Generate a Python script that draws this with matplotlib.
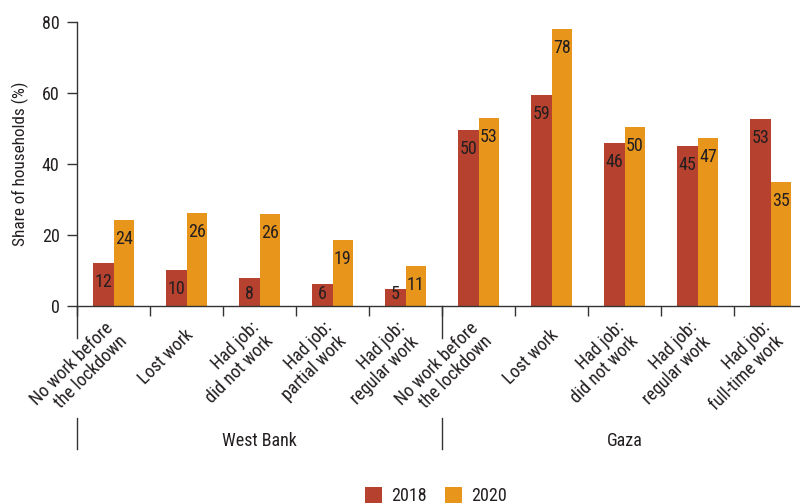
import matplotlib
matplotlib.use("Agg")
import matplotlib.pyplot as plt
from matplotlib.patches import Patch
from matplotlib import font_manager
import numpy as np

_avail = {f.name for f in font_manager.fontManager.ttflist}
_prefs = ['Roboto Condensed', 'DejaVu Sans Condensed', 'Liberation Sans Narrow',
          'Open Sans Condensed', 'Roboto', 'DejaVu Sans']
_family = [f for f in _prefs if f in _avail] + ['DejaVu Sans']
plt.rcParams['font.family'] = _family
_condensed = _family[0] in ('Roboto Condensed', 'DejaVu Sans Condensed',
                            'Liberation Sans Narrow', 'Open Sans Condensed')

categories = [
    "No work before\nthe lockdown", "Lost work", "Had job:\ndid not work",
    "Had job:\npartial work", "Had job:\nregular work",
    "No work before\nthe lockdown", "Lost work", "Had job:\ndid not work",
    "Had job:\nregular work", "Had job:\nfull-time work",
]
groups = ["West Bank", "Gaza"]
years = ["2018", "2020"]
vals_2018 = [12.2, 10.2, 8.0, 6.3, 4.9, 49.7, 59.4, 45.9, 45.1, 52.7]
vals_2020 = [24.3, 26.3, 26.0, 18.7, 11.3, 53.0, 78.0, 50.4, 47.3, 34.9]
yticks = [0, 20, 40, 60, 80]

RED = '#B5412E'
ORANGE = '#E8951C'
TXT = '#231F20'
AX = '#333333'
FS = 13 if _condensed else 11.5
FS_Y = 12.3 if _condensed else 10.5

fig = plt.figure(figsize=(8, 5.04), dpi=100)
ax = fig.add_axes([77/800, 1-306/504, (800-77)/800, 284/504])

x = np.arange(len(categories))
w = 0.28
b1 = ax.bar(x - w/2, vals_2018, w, color=RED, linewidth=0)
b2 = ax.bar(x + w/2, vals_2020, w, color=ORANGE, linewidth=0)

for bars, vals in ((b1, vals_2018), (b2, vals_2020)):
    for rect, v in zip(bars, vals):
        ypos = max(v - 5.4, 3.5)
        ax.text(rect.get_x() + rect.get_width()/2, ypos, f"{round(v):d}",
                ha='center', va='center', fontsize=FS, color=TXT)

ax.set_xlim(-0.5, 9.4)
ax.set_ylim(0, 80)
ax.set_yticks(yticks)
ax.set_yticklabels([str(t) for t in yticks], fontsize=FS, color=TXT)
ax.tick_params(axis='y', length=7, width=1, color=AX, pad=5.5)

ax.set_xticks([])
ax.set_xticks(np.arange(-0.5, 9.0, 1.0), minor=True)
ax.tick_params(axis='x', which='minor', length=7, width=1, color=AX)

for s in ('top', 'right'):
    ax.spines[s].set_visible(False)
for s in ('left', 'bottom'):
    ax.spines[s].set_color(AX)
    ax.spines[s].set_linewidth(1)

trans = ax.get_xaxis_transform()
for i, lab in enumerate(categories):
    ax.text(i + 0.05, -0.092, lab, transform=trans, rotation=45,
            rotation_mode='anchor', ha='right', va='center',
            fontsize=FS, color=TXT, linespacing=1.1)

for xb in (-0.5, 4.5):
    ax.plot([xb, xb], [0, -0.113], transform=trans, color=AX, lw=1, clip_on=False)
    ax.plot([xb, xb], [-0.394, -0.504], transform=trans, color=AX, lw=1, clip_on=False)

ax.text(2.0, -0.475, groups[0], transform=trans, ha='center', va='center',
        fontsize=FS, color=TXT)
ax.text(7.0, -0.475, groups[1], transform=trans, ha='center', va='center',
        fontsize=FS, color=TXT)

ax.set_ylabel("Share of households (%)", fontsize=FS_Y, color=TXT)
ax.yaxis.set_label_coords(-0.066, 0.5)

handles = [Patch(facecolor=RED, edgecolor='none'), Patch(facecolor=ORANGE, edgecolor='none')]
leg = fig.legend(handles, years, loc='lower center', bbox_to_anchor=(0.545, -0.035),
                 ncol=2, frameon=False, fontsize=FS, handlelength=0.95, handleheight=0.95,
                 handletextpad=0.5, columnspacing=1.0)
for t in leg.get_texts():
    t.set_color(TXT)

fig.savefig("out.png", dpi=100)
